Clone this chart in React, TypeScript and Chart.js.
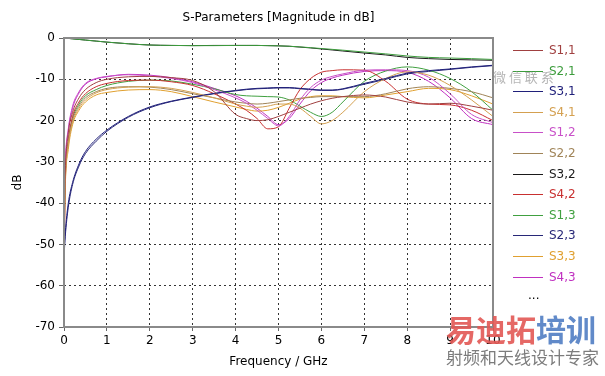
import { useEffect, useRef } from "react";
import { Chart, registerables } from "chart.js";
Chart.register(...registerables);

const titleText = "S-Parameters [Magnitude in dB]";
const xTitle = "Frequency / GHz";
const yTitle = "dB";

const freq = [0, 0.03, 0.1, 0.2, 0.35, 0.5, 0.75, 1, 1.5, 2, 2.5, 3, 3.5, 4, 4.25, 4.5, 4.75, 5, 5.25, 5.5, 5.75, 6, 6.25, 6.5, 7, 7.5, 8, 8.5, 9, 9.5, 10];

const s11 = [-45, -32, -23, -18, -14.5, -12.5, -10.8, -10, -9.4, -9.3, -9.6, -10.3, -13, -18.5, -19.5, -20, -19.8, -19, -18, -17, -16, -15.2, -14.6, -14.2, -13.8, -14.3, -15.5, -16, -15.8, -16.5, -17.5];
const s21 = [0, -0.03, -0.1, -0.2, -0.35, -0.5, -0.75, -1.0, -1.4, -1.7, -1.8, -1.85, -1.85, -1.8, -1.8, -1.8, -1.85, -1.9, -2.0, -2.15, -2.35, -2.55, -2.75, -2.95, -3.4, -3.85, -4.35, -4.7, -4.85, -5.0, -5.2];
const s31 = [-52, -47, -40, -35, -30.5, -27.5, -24.5, -22.3, -19, -16.7, -15.3, -14.3, -13.4, -12.7, -12.4, -12.2, -12.1, -12.0, -12.0, -12.2, -12.4, -12.6, -12.6, -12.3, -11.0, -9.8, -8.5, -7.9, -7.5, -7.0, -6.6];
const s41 = [-50, -35, -26, -20.5, -17, -15, -13.3, -12.5, -11.9, -11.8, -12.2, -13.2, -14.5, -16, -16.5, -16.8, -16.5, -16, -16, -17, -19, -20.8, -20, -18, -13, -9.8, -8.2, -9.0, -11.5, -15, -19];
const s12 = [-42, -30, -22, -16.5, -13, -11, -9.8, -9.3, -8.9, -9.2, -9.8, -10.8, -12.5, -14.5, -15.8, -17.5, -19.5, -21.3, -19, -15, -12, -10.2, -9.3, -8.7, -7.8, -7.7, -7.9, -9.5, -13.5, -18.5, -20.5];
const s22 = [-50, -34, -25.5, -20, -16.5, -14.5, -13, -12.2, -11.8, -11.9, -12.5, -13.5, -14.5, -15.5, -15.8, -16, -15.8, -15.4, -15, -14.6, -14.4, -14.2, -14.2, -14.2, -14.2, -13.5, -12.3, -11.8, -12.2, -13, -14.5];
const s32 = [0, -0.03, -0.1, -0.2, -0.35, -0.5, -0.75, -1.0, -1.4, -1.7, -1.8, -1.85, -1.8, -1.8, -1.8, -1.8, -1.85, -1.9, -2.0, -2.2, -2.4, -2.65, -2.9, -3.15, -3.65, -4.1, -4.7, -5.0, -5.2, -5.3, -5.4];
const s42 = [-60, -35, -25, -19, -15.5, -13.5, -11.8, -11, -10.3, -10.2, -10.6, -11.5, -13.5, -16, -17.5, -19.5, -22, -21.5, -17, -12.5, -9.8, -8.3, -7.9, -7.7, -7.8, -10.5, -14.8, -16, -16.2, -17.5, -20];
const s13 = [-48, -33, -25, -19.5, -16, -14, -12.5, -11.5, -10.5, -10.2, -10.4, -11.2, -12.3, -13.7, -14, -14.1, -14.2, -14.3, -15, -16.5, -18, -19, -18, -15.5, -10.5, -8, -7.0, -7.8, -9.8, -13, -17.5];
const s23 = [-53, -48, -41, -35.5, -31, -28, -25, -22.6, -19.2, -16.9, -15.4, -14.4, -13.5, -12.8, -12.5, -12.3, -12.2, -12.1, -12.1, -12.3, -12.5, -12.7, -12.7, -12.4, -11.2, -10.0, -8.7, -8.1, -7.6, -7.1, -6.7];
const s33 = [-52, -36, -27, -21, -17.5, -15.5, -13.8, -13.2, -12.6, -12.5, -13.0, -14.2, -15.5, -16.7, -17.3, -17.7, -17.5, -16.8, -15.8, -14.8, -14.2, -14.0, -14.0, -14.2, -14.5, -13.8, -13, -12.2, -12.5, -14, -16];
const s43 = [-44, -31, -22.5, -17, -13.3, -11.2, -9.9, -9.4, -8.8, -9.0, -9.6, -10.6, -12.2, -14.0, -15.3, -17.0, -19, -21, -19.5, -16, -12.8, -10.8, -9.7, -9.0, -8.1, -7.9, -8.3, -10.5, -14.5, -19.5, -21];

const seriesNames = ["S1,1", "S2,1", "S3,1", "S4,1", "S1,2", "S2,2", "S3,2", "S4,2", "S1,3", "S2,3", "S3,3", "S4,3"];
const seriesValues = [s11, s21, s31, s41, s12, s22, s32, s42, s13, s23, s33, s43];
const seriesColors = ["#a04040", "#3c9c3c", "#20207a", "#d4a050", "#c850c8", "#a08458", "#1a1a1a", "#c83030", "#40a040", "#282878", "#e0a030", "#c030c0"];

const FONT = '"DejaVu Sans", Verdana, sans-serif';

export default function App() {
  const ref = useRef<HTMLCanvasElement>(null);
  useEffect(() => {
    document.body.style.margin = "0";
    const canvas = ref.current!;
    const datasets = seriesValues.map((vals, i) => ({
      label: seriesNames[i],
      data: freq.map((f, j) => ({ x: f, y: vals[j] })),
      borderColor: seriesColors[i],
      backgroundColor: seriesColors[i],
      borderWidth: 1,
      pointRadius: 0,
      cubicInterpolationMode: "monotone" as const,
      fill: false,
    }));
    const extras = {
      id: "extras",
      afterDraw(chart: any) {
        const { ctx, chartArea: a } = chart;
        ctx.save();
        ctx.strokeStyle = "#8a8a8a";
        ctx.lineWidth = 2;
        ctx.strokeRect(a.left, a.top, a.right - a.left, a.bottom - a.top);
        ctx.fillStyle = "#000";
        ctx.font = `12px ${FONT}`;
        ctx.textAlign = "center";
        ctx.textBaseline = "middle";
        ctx.fillText(titleText, (a.left + a.right) / 2, 18);
        // legend
        ctx.textAlign = "left";
        ctx.lineWidth = 1;
        seriesNames.forEach((n, i) => {
          const y = Math.round(50 + i * 20.6) + 0.5;
          ctx.strokeStyle = seriesColors[i];
          ctx.beginPath();
          ctx.moveTo(513, y);
          ctx.lineTo(543, y);
          ctx.stroke();
          ctx.fillStyle = seriesColors[i];
          ctx.fillText(n, 549, y);
        });
        ctx.fillStyle = "#000";
        ctx.fillText("...", 528, 296);
        // watermark
        ctx.font = `13px "Noto Sans CJK SC"`;
        ctx.fillStyle = "rgba(150,150,150,0.7)";
        ctx.fillText("微 信 联 系", 493, 77);
        ctx.font = `bold 30px "Noto Sans CJK SC"`;
        ctx.fillStyle = "rgba(226,88,84,0.9)";
        ctx.fillText("易迪拓", 446, 330);
        ctx.fillStyle = "rgba(80,125,195,0.9)";
        ctx.fillText("培训", 536, 330);
        ctx.font = `17px "Noto Sans CJK SC"`;
        ctx.fillStyle = "rgba(110,110,110,0.9)";
        ctx.fillText("射频和天线设计专家", 446, 358);
        ctx.restore();
      },
    };
    const chart = new Chart(canvas, {
      type: "line",
      data: { datasets },
      options: {
        responsive: false,
        animation: false,
        layout: { padding: { top: 38, right: 112, bottom: 0, left: 0 } },
        plugins: { legend: { display: false }, tooltip: { enabled: false }, title: { display: false } },
        scales: {
          x: {
            type: "linear",
            min: 0,
            max: 10,
            ticks: { stepSize: 1, color: "#000", font: { family: FONT, size: 12 }, padding: 3, maxRotation: 0 },
            grid: { color: "#333", lineWidth: 1, tickLength: 4, tickColor: "#666" },
            border: { display: false, dash: [2, 3] },
            title: { display: true, text: xTitle, color: "#000", font: { family: FONT, size: 12 }, padding: { top: 0, bottom: 7 } },
            afterFit(s: any) { s.height = 49; },
          },
          y: {
            min: -70,
            max: 0,
            ticks: { stepSize: 10, color: "#000", font: { family: FONT, size: 12 }, padding: 4 },
            grid: { color: "#333", lineWidth: 1, tickLength: 5, tickColor: "#666" },
            border: { display: false, dash: [2, 3] },
            title: { display: true, text: yTitle, color: "#000", font: { family: FONT, size: 12 }, padding: { top: 11, bottom: 0 } },
            afterFit(s: any) { s.width = 64; },
          },
        },
      },
      plugins: [extras],
    });
    return () => chart.destroy();
  }, []);
  return <canvas ref={ref} width={605} height={376} style={{ display: "block" }} />;
}
